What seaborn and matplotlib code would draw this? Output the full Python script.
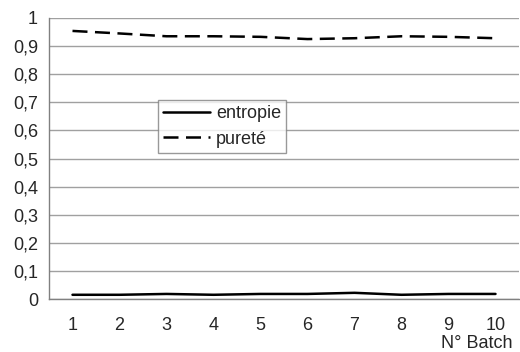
import matplotlib
matplotlib.use("Agg")
import matplotlib.pyplot as plt
import seaborn as sns
import pandas as pd
import numpy as np

batches = [1, 2, 3, 4, 5, 6, 7, 8, 9, 10]
entropie = [0.015, 0.015, 0.018, 0.015, 0.018, 0.018, 0.022, 0.015, 0.018, 0.018]
purete = [0.954, 0.945, 0.935, 0.935, 0.933, 0.925, 0.928, 0.935, 0.933, 0.928]
yticks = [0, 0.1, 0.2, 0.3, 0.4, 0.5, 0.6, 0.7, 0.8, 0.9, 1]
ytick_labels = ["0", "0,1", "0,2", "0,3", "0,4", "0,5", "0,6", "0,7", "0,8", "0,9", "1"]

sns.set_style("white")
plt.rcParams['font.family'] = ['Liberation Sans', 'DejaVu Sans']
FS = 13

df = pd.DataFrame({"batch": batches * 2,
                   "value": entropie + purete,
                   "serie": ["entropie"] * 10 + ["pureté"] * 10})

fig = plt.figure(figsize=(5.2, 3.52), dpi=100)
ax = fig.add_axes([49/520, 1 - 299/352, 470/520, 281/352])

sns.lineplot(data=df, x="batch", y="value", hue="serie", style="serie",
             palette={"entropie": "black", "pureté": "black"},
             dashes={"entropie": "", "pureté": (6, 3)},
             linewidth=1.8, ax=ax, legend=True)

ax.set_xlim(0.5, 10.5)
ax.set_ylim(0, 1)
ax.set_yticks(yticks)
ax.set_yticklabels(ytick_labels, fontsize=FS)
ax.yaxis.grid(True, color="#a0a0a0", linewidth=1)
ax.set_axisbelow(True)
ax.set_xticks(batches)
ax.set_xticklabels([str(b) for b in batches], fontsize=FS)
ax.set_xticks(np.arange(0.5, 11, 1), minor=True)
ax.tick_params(axis="x", which="major", length=0, pad=13)
ax.tick_params(axis="x", which="minor", length=4, color="#808080", direction="out")
ax.tick_params(axis="y", which="major", length=4, color="#808080", direction="out", pad=4)
for s in ["top", "right"]:
    ax.spines[s].set_visible(False)
for s in ["left", "bottom"]:
    ax.spines[s].set_color("#808080")
    ax.spines[s].set_linewidth(1)
ax.set_xlabel("")
ax.set_ylabel("")
fig.text(0.985, 1 - 343/352, "N° Batch", ha="right", va="center", fontsize=FS)

leg = ax.legend(loc="upper left", bbox_to_anchor=((158-49)/470, (299-100)/281),
                fontsize=FS, frameon=True, fancybox=False, edgecolor="#808080",
                handlelength=2.6, borderpad=0.3, labelspacing=0.45, handletextpad=0.3,
                borderaxespad=0)
leg.get_frame().set_linewidth(1)

fig.savefig("out.png", dpi=100)
